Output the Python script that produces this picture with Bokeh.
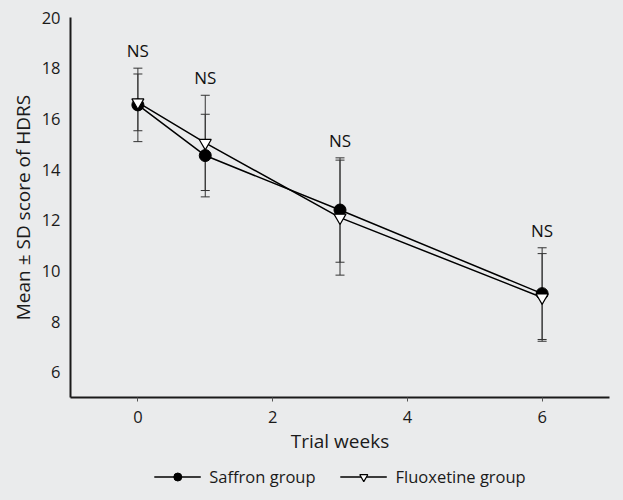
from bokeh.plotting import figure
from bokeh.layouts import column
from bokeh.models import (ColumnDataSource, Whisker, TeeHead, Legend, LegendItem,
                          Range1d, FixedTicker)
from bokeh.core.properties import value
from bokeh.embed import file_html
from bokeh.resources import INLINE

# ---- data ----
weeks = [0, 1, 3, 6]
saffron_mean = [16.55, 14.55, 12.4, 9.1]
saffron_sd = [1.45, 1.63, 2.06, 1.81]
fluox_mean = [16.65, 15.05, 12.1, 8.95]
fluox_sd = [1.12, 1.88, 2.27, 1.73]
sig_labels = ["NS", "NS", "NS", "NS"]
x_ticks = [0, 2, 4, 6]
y_ticks = [6, 8, 10, 12, 14, 16, 18, 20]
series_names = ["Saffron group", "Fluoxetine group"]

BG = "#eaebec"
FONT = "Open Sans"

s_src = ColumnDataSource(dict(
    x=weeks, y=saffron_mean,
    lo=[m - s for m, s in zip(saffron_mean, saffron_sd)],
    hi=[m + s for m, s in zip(saffron_mean, saffron_sd)]))
f_src = ColumnDataSource(dict(
    x=weeks, y=fluox_mean,
    lo=[m - s for m, s in zip(fluox_mean, fluox_sd)],
    hi=[m + s for m, s in zip(fluox_mean, fluox_sd)]))
ns_src = ColumnDataSource(dict(
    x=weeks,
    y=[max(a + b, c + d) for a, b, c, d in zip(saffron_mean, saffron_sd, fluox_mean, fluox_sd)],
    t=sig_labels))

p = figure(frame_width=539, frame_height=380, output_backend="svg", toolbar_location=None,
           x_range=Range1d(-1, 7), y_range=Range1d(5, 20),
           min_border_left=70, min_border_right=14, min_border_top=17, min_border_bottom=61)
p.background_fill_color = BG
p.border_fill_color = BG
p.outline_line_color = None
p.xgrid.visible = False
p.ygrid.visible = False

# error bars
for src in (s_src, f_src):
    w = Whisker(source=src, base="x", upper="hi", lower="lo",
                line_color="#333333", line_width=1,
                upper_head=TeeHead(size=9, line_color="#333333", line_width=1),
                lower_head=TeeHead(size=9, line_color="#333333", line_width=1),
                level="underlay")
    p.add_layout(w)

LINE_KW = dict(line_color="black", line_width=1.5)
S_KW = dict(marker="circle", size=12, fill_color="black", line_color="black")
F_KW = dict(marker="inverted_triangle", size=12, fill_color="white",
            line_color="black", line_width=1.2)

p.line("x", "y", source=s_src, **LINE_KW)
p.line("x", "y", source=f_src, **LINE_KW)
p.scatter("x", "y", source=s_src, **S_KW)
p.scatter("x", "y", source=f_src, **F_KW)

p.text("x", "y", text="t", source=ns_src, text_font=value(FONT),
       text_font_size="17px", text_align="center", text_baseline="bottom",
       y_offset=-6, text_color="#111111")

# axes
for ax in (p.xaxis[0], p.yaxis[0]):
    ax.axis_line_width = 2
    ax.axis_line_color = "#1a1a1a"
    ax.minor_tick_line_color = None
    ax.major_label_text_font = FONT
    ax.major_label_text_font_size = "16.5px"
    ax.major_label_text_color = "#1a1a1a"
    ax.axis_label_text_font = FONT
    ax.axis_label_text_font_size = "19px"
    ax.axis_label_text_font_style = "normal"
    ax.axis_label_text_color = "#1a1a1a"

p.xaxis.ticker = FixedTicker(ticks=x_ticks)
p.yaxis.ticker = FixedTicker(ticks=y_ticks)
p.xaxis.major_tick_out = 4
p.xaxis.major_tick_in = 0
p.xaxis.major_tick_line_color = "#555555"
p.xaxis.major_label_standoff = 9
p.xaxis.axis_label = "Trial weeks"
p.xaxis.axis_label_standoff = 2
p.yaxis.major_tick_line_color = None
p.yaxis.major_label_standoff = 4
p.yaxis.axis_label = "Mean ± SD score of HDRS"
p.yaxis.axis_label_standoff = 3

# legend strip below the chart (its renderers use the real sources, kept out of view)
lg = figure(width=623, height=36, output_backend="svg", toolbar_location=None,
            x_range=Range1d(0, 1), y_range=Range1d(100, 101),
            x_axis_location=None, y_axis_location=None,
            min_border_left=70, min_border_right=14, min_border_top=0, min_border_bottom=0)
lg.background_fill_color = BG
lg.border_fill_color = BG
lg.outline_line_color = None
lg.xgrid.visible = False
lg.ygrid.visible = False
l1 = lg.line("x", "y", source=s_src, **LINE_KW)
m1 = lg.scatter("x", "y", source=s_src, **S_KW)
l2 = lg.line("x", "y", source=f_src, **LINE_KW)
m2 = lg.scatter("x", "y", source=f_src, **F_KW)
legend = Legend(items=[
    LegendItem(label=series_names[0], renderers=[l1, m1]),
    LegendItem(label=series_names[1], renderers=[l2, m2]),
], location="center", orientation="horizontal",
    background_fill_alpha=0, border_line_color=None,
    padding=0, margin=0, spacing=24, glyph_width=47, glyph_height=20,
    label_height=20, label_standoff=9,
    label_text_font=FONT, label_text_font_size="16.5px", label_text_color="#1a1a1a")
lg.add_layout(legend, "center")

layout = column(p, lg, spacing=0)
html = file_html(layout, INLINE)
html = html + '\n<style>html, body { background-color: %s; }</style>\n' % BG
open("out.html", "w").write(html)
